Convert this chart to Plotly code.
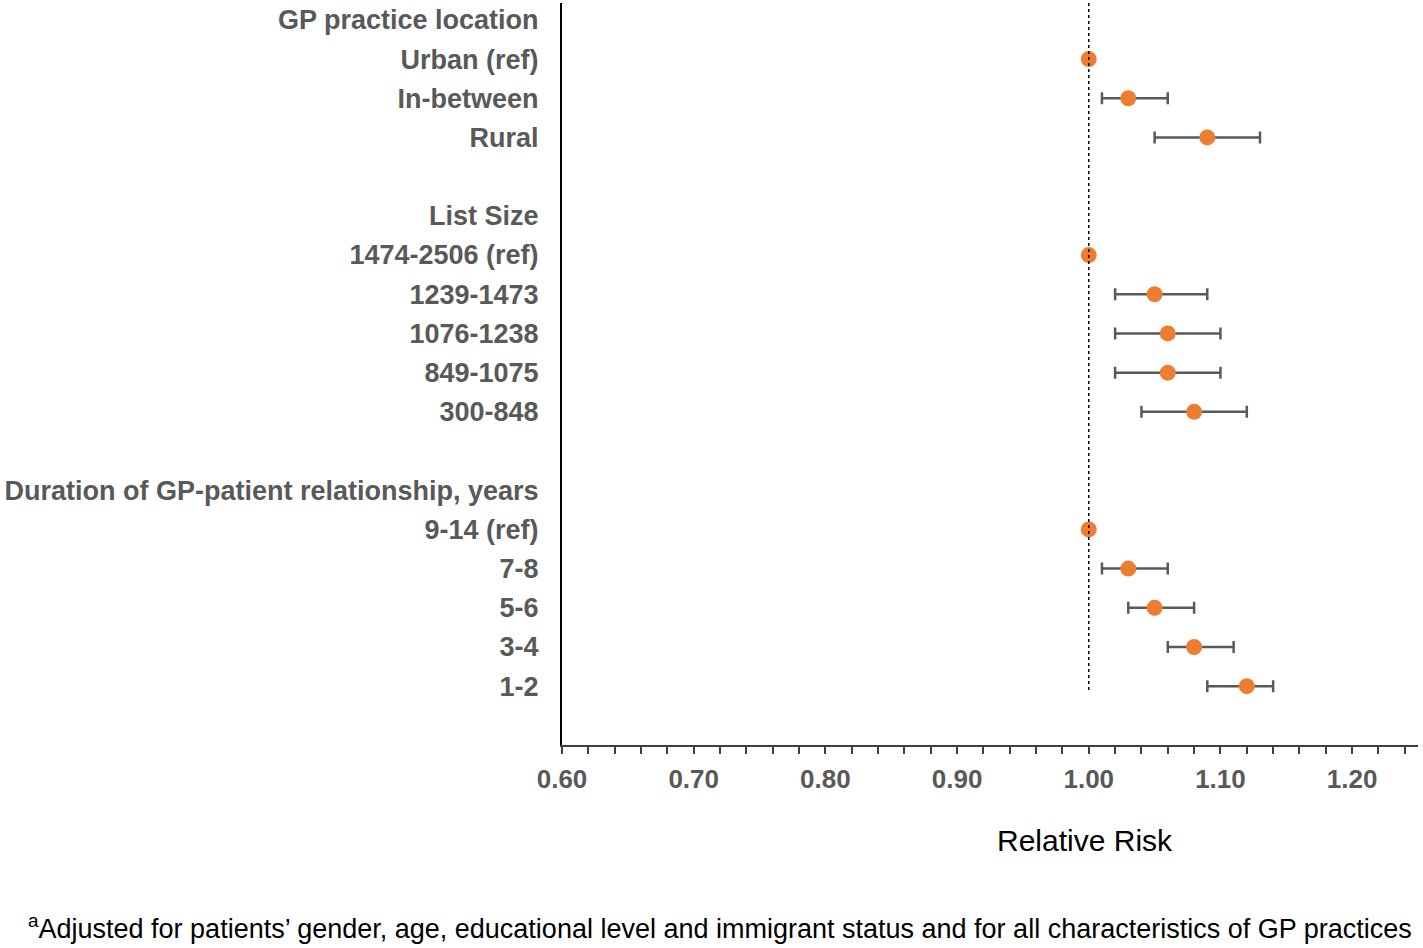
import plotly.graph_objects as go

# Rows from top to bottom ("" = blank spacer row)
row_labels = [
    "GP practice location", "Urban (ref)", "In-between", "Rural", "",
    "List Size", "1474-2506 (ref)", "1239-1473", "1076-1238", "849-1075", "300-848", "",
    "Duration of GP-patient relationship, years", "9-14 (ref)", "7-8", "5-6", "3-4", "1-2",
]
rr = [None, 1.00, 1.03, 1.09, None,
      None, 1.00, 1.05, 1.06, 1.06, 1.08, None,
      None, 1.00, 1.03, 1.05, 1.08, 1.12]
ci_low = [None, None, 1.01, 1.05, None,
          None, None, 1.02, 1.02, 1.02, 1.04, None,
          None, None, 1.01, 1.03, 1.06, 1.09]
ci_high = [None, None, 1.06, 1.13, None,
           None, None, 1.09, 1.10, 1.10, 1.12, None,
           None, None, 1.06, 1.08, 1.11, 1.14]

x_ticks = [0.60, 0.70, 0.80, 0.90, 1.00, 1.10, 1.20]

ys, xs, eplus, eminus = [], [], [], []
for i, v in enumerate(rr):
    if v is None:
        continue
    ys.append(i)
    xs.append(v)
    lo, hi = ci_low[i], ci_high[i]
    eplus.append(0 if hi is None else hi - v)
    eminus.append(0 if lo is None else v - lo)

GRAY = "#595959"
ORANGE = "#ED7D31"

fig = go.Figure()
fig.add_trace(go.Scatter(
    x=xs, y=ys, mode="markers",
    marker=dict(color=ORANGE, size=16, line=dict(width=0)),
    error_x=dict(type="data", symmetric=False, array=eplus, arrayminus=eminus,
                 color=GRAY, thickness=2.5, width=6),
    showlegend=False,
    hoverinfo="x+y",
))

# Reference line at RR = 1.00
fig.add_shape(type="line", xref="x", yref="paper", x0=1.0, x1=1.0, y0=1.0, y1=0.074,
              line=dict(color="black", width=1.5, dash="dot"))

fig.update_layout(
    width=1423, height=948,
    margin=dict(l=562, r=5, t=3, b=203),
    plot_bgcolor="white", paper_bgcolor="white",
    font=dict(family="Liberation Sans, Arial, sans-serif", color=GRAY),
)
fig.update_xaxes(
    range=[0.6, 1.25], tick0=0.6, dtick=0.1, tickvals=x_ticks, tickformat=".2f",
    showgrid=False, zeroline=False,
    showline=True, linecolor="#404040", linewidth=2,
    ticks="outside", ticklen=7, tickwidth=1.5, tickcolor="#404040",
    minor=dict(dtick=0.02, tick0=0.6, ticks="outside", ticklen=7, tickwidth=1.5, tickcolor="#404040"),
    tickfont=dict(family="Liberation Sans, Arial, sans-serif",
                  size=26, color=GRAY, weight="bold"),
    ticklabelstandoff=3,
)
fig.update_yaxes(
    range=[18.5, -0.43],
    tickmode="array", tickvals=list(range(len(row_labels))), ticktext=row_labels,
    showgrid=False, zeroline=False,
    showline=True, linecolor="black", linewidth=2,
    ticks="", ticklabelstandoff=16,
    tickfont=dict(family="Liberation Sans, Arial, sans-serif", size=27, color=GRAY, weight="bold"),
)

fig.add_annotation(text="Relative Risk", xref="paper", yref="paper", x=0.611, y=0,
                   yshift=-95, xanchor="center", yanchor="middle", showarrow=False,
                   font=dict(family="Liberation Sans, Arial, sans-serif", size=30, color="black"))
fig.add_annotation(text="<sup>a</sup>Adjusted for patients\u2019 gender, age, educational level and immigrant status and for all characteristics of GP practices",
                   xref="paper", yref="paper", x=1.0, y=0, xanchor="right", yanchor="middle",
                   xshift=-4, yshift=-182, showarrow=False,
                   font=dict(family="Liberation Sans, Arial, sans-serif", size=27, color="black"))

fig.write_html("out.html", config={"displayModeBar": False},
               post_script="document.body.style.margin='0px';")
